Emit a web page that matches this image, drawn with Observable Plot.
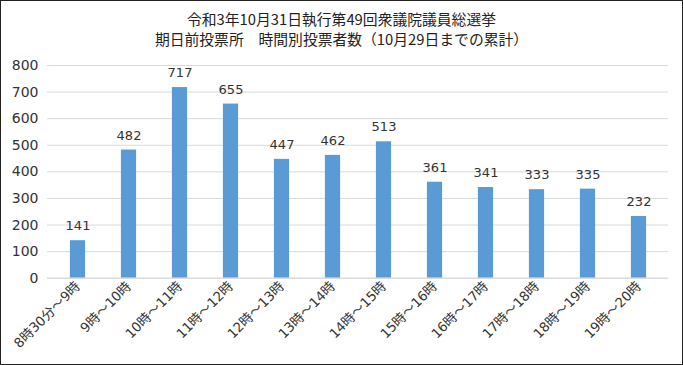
<!DOCTYPE html>
<html><head><meta charset="utf-8">
<script src="https://cdn.jsdelivr.net/npm/d3@7"></script>
<script src="https://cdn.jsdelivr.net/npm/@observablehq/plot@0.6"></script>
<style>
body{margin:0;background:#fff;}
#wrap{width:683px;height:365px;position:relative;overflow:hidden;font-family:"Noto Sans CJK JP",sans-serif;background:#fff;}
#frame{position:absolute;left:0;top:0;width:683px;height:365px;box-sizing:border-box;border:1.5px solid #222;pointer-events:none;}
#title{position:absolute;left:0;top:9px;width:100%;text-align:center;font-size:14.8px;line-height:20px;color:#222;}
#chart{position:absolute;left:0;top:45px;}
</style></head>
<body><div id="wrap"><div id="title">令和3年10月31日執行第49回衆議院議員総選挙<br>期日前投票所　時間別投票者数（10月29日までの累計）</div><div id="chart"></div><div id="frame"></div></div>
<script>
const categories = ["8時30分～9時","9時～10時","10時～11時","11時～12時","12時～13時","13時～14時","14時～15時","15時～16時","16時～17時","17時～18時","18時～19時","19時～20時"];
const values = [141,482,717,655,447,462,513,361,341,333,335,232];
const yTicks = [0,100,200,300,400,500,600,700,800];
const data = categories.map((c,i)=>({c, v: values[i]}));
const numFont = '"DejaVu Sans", "Noto Sans CJK JP", sans-serif';
const chart = Plot.plot({
  width: 683, height: 318,
  marginTop: 20, marginBottom: 85.3, marginLeft: 47, marginRight: 15,
  style: {fontFamily: numFont, background: "transparent", overflow: "visible"},
  x: {type: "band", domain: categories, padding: 0, label: null},
  y: {domain: [0, 800], label: null},
  marks: [
    Plot.gridY(yTicks, {stroke: "#d9d9d9", strokeOpacity: 1}),
    Plot.barY(data, {x: "c", y: "v", fill: "#5b9bd5", insetLeft: 17.9, insetRight: 17.9}),
    Plot.text(data, {x: "c", y: "v", text: d => String(d.v), dy: -14.5, fontSize: 13, fill: "#333"}),
    Plot.axisY({ticks: yTicks, tickSize: 0, tickPadding: 9, fontSize: 14, fill: "#333", label: null}),
    Plot.axisX({tickSize: 0, tickPadding: 6, tickRotate: -45, fontSize: 13.3, fill: "#333", label: null}),
    Plot.ruleY([0], {stroke: "#d9d9d9"})
  ]
});
document.getElementById("chart").appendChild(chart);
</script></body></html>
